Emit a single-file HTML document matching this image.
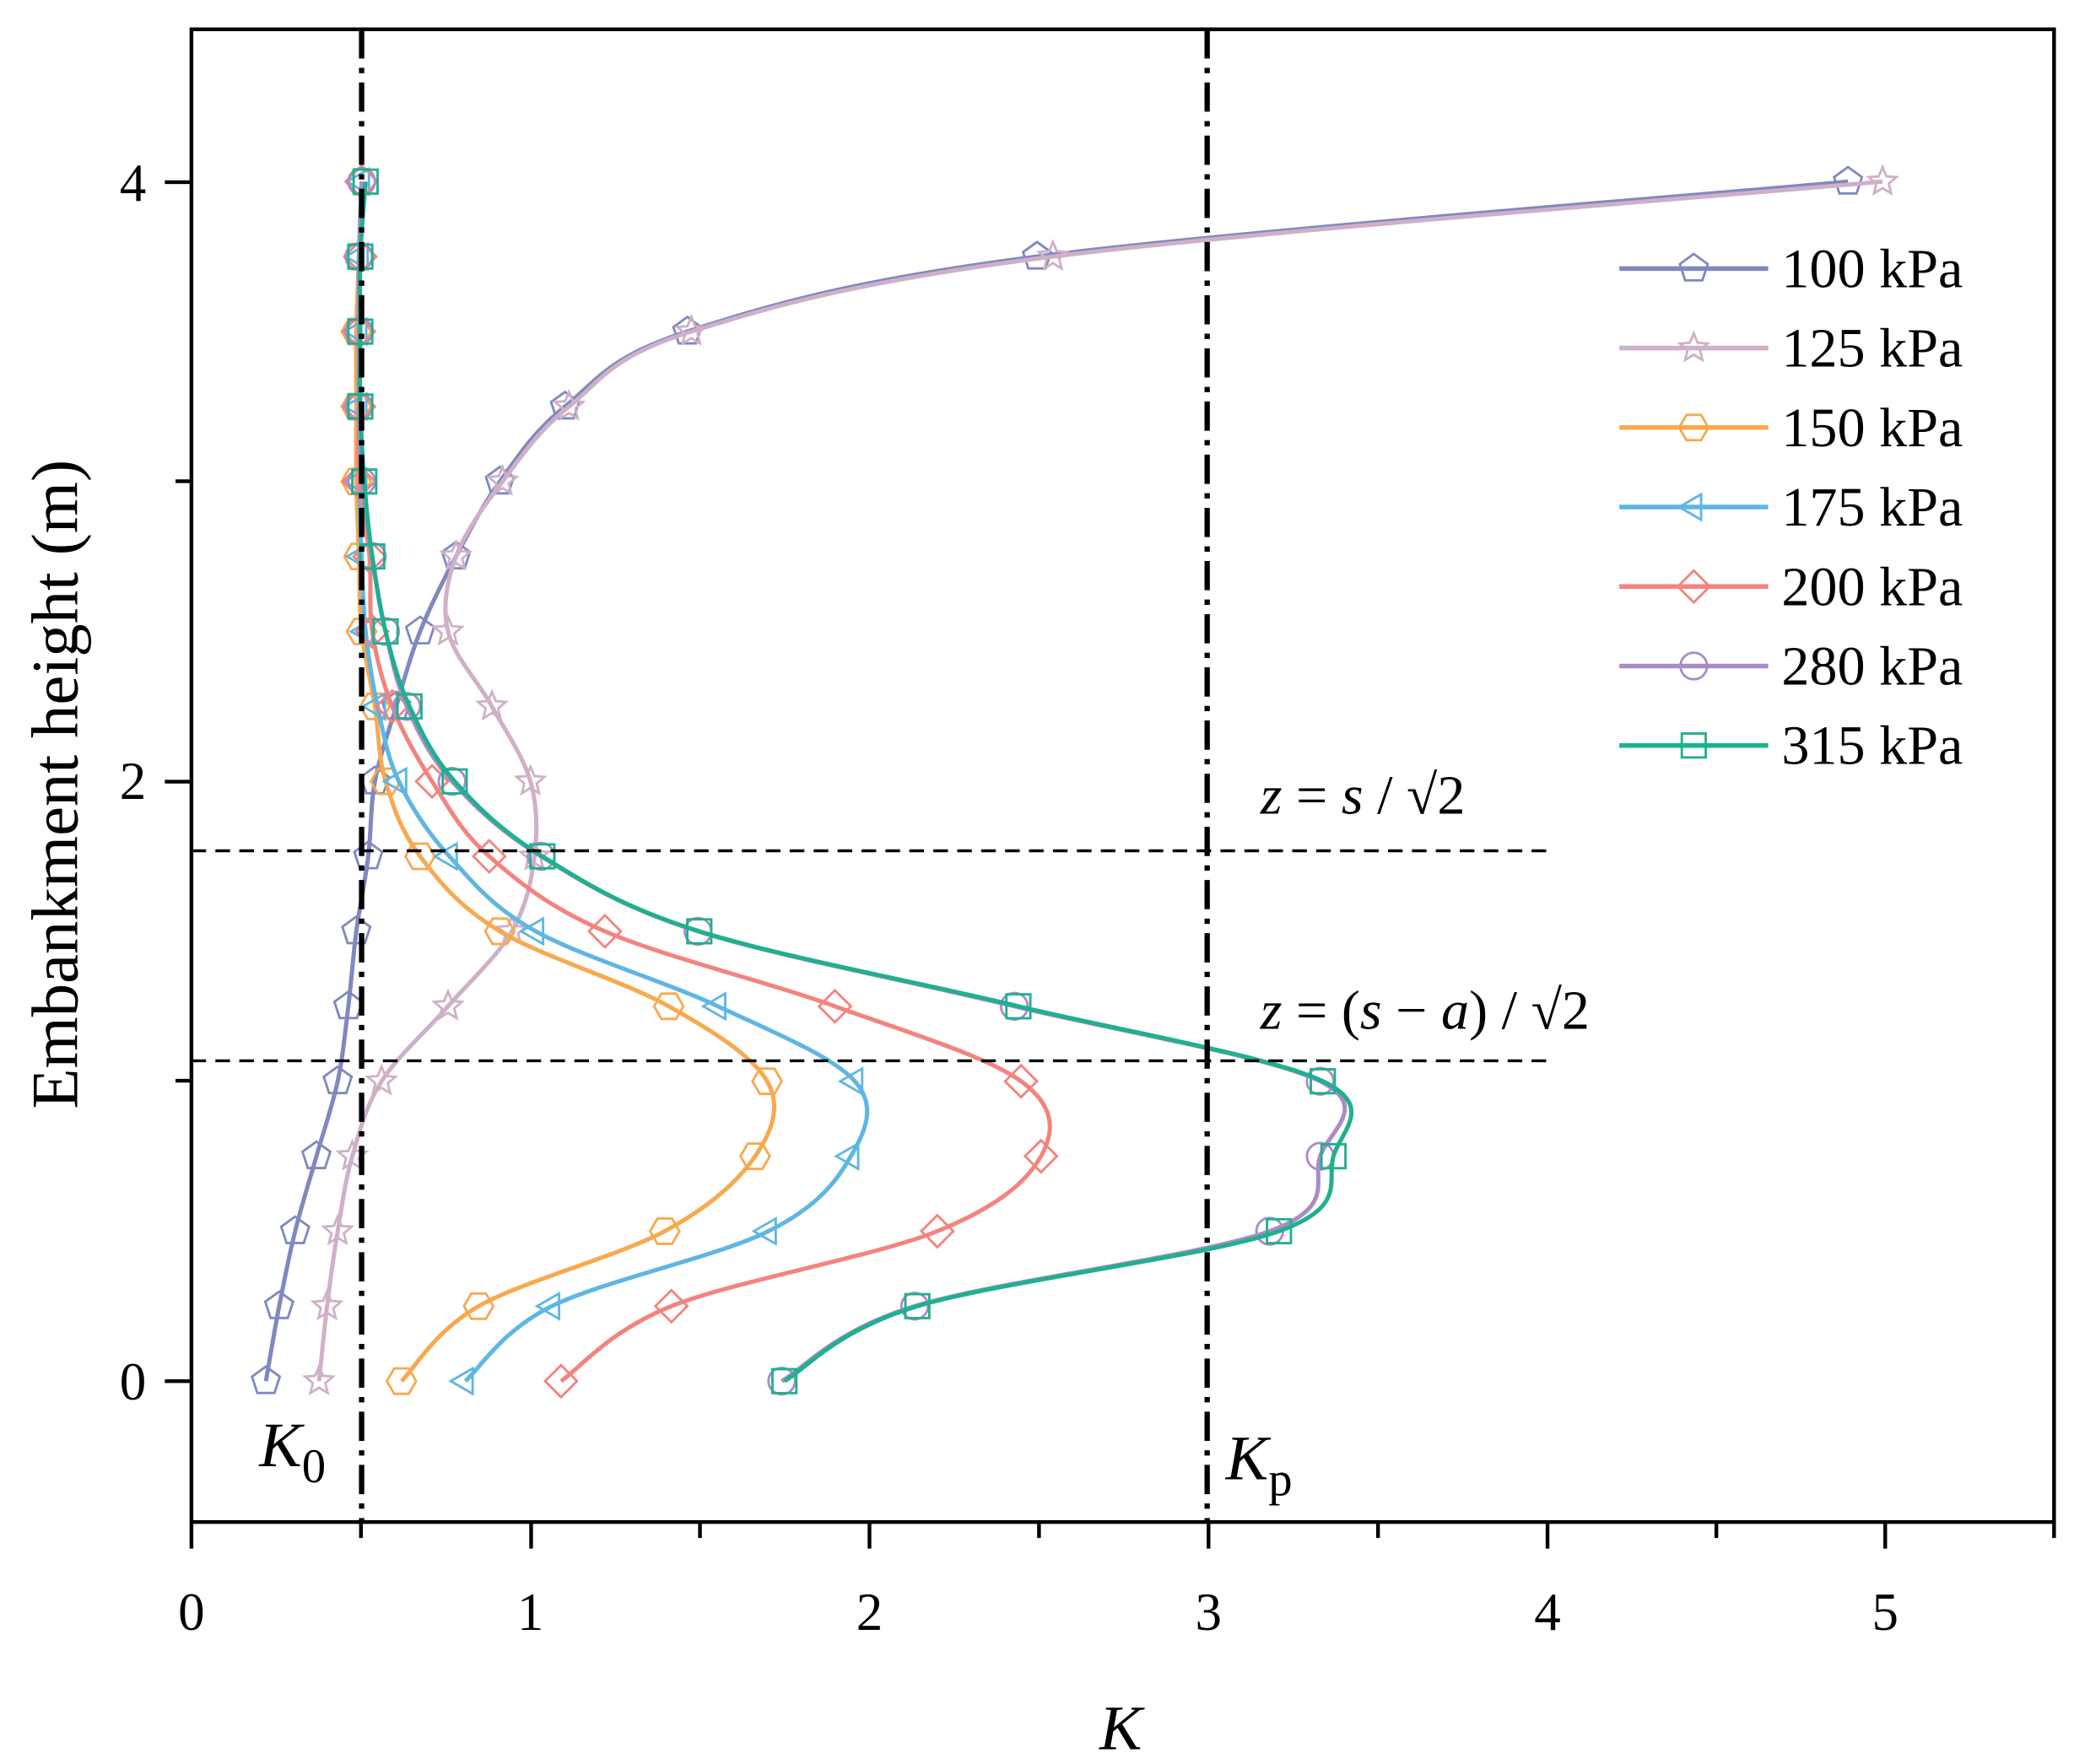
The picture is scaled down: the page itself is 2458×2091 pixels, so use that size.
<!DOCTYPE html>
<html><head><meta charset="utf-8"><style>
html,body{margin:0;padding:0;background:#fff;}
svg{display:block;}
text{font-family:"Liberation Serif",serif;fill:#000;}
</style></head><body>
<svg id="s" width="2458" height="2091" viewBox="0 0 1560 1327" xmlns="http://www.w3.org/2000/svg">
<rect x="0" y="0" width="1560" height="1327" fill="#fff"/>
<g id="plot"></g>
<rect x="144" y="22" width="1401" height="1123" fill="none" stroke="#000" stroke-width="2.8"/>
<line x1="272" y1="22" x2="272" y2="1145" stroke="#000" stroke-width="4" stroke-dasharray="22,7,4,7"/>
<line x1="908" y1="22" x2="908" y2="1145" stroke="#000" stroke-width="4" stroke-dasharray="22,7,4,7"/>
<line x1="144" y1="640" x2="1165" y2="640" stroke="#000" stroke-width="2.2" stroke-dasharray="11,7"/>
<line x1="144" y1="798" x2="1165" y2="798" stroke="#000" stroke-width="2.2" stroke-dasharray="11,7"/>
<g id="ticks" stroke="#000" stroke-width="2.8"></g>
<g font-size="40" text-anchor="middle">
<text x="144" y="1226">0</text><text x="399" y="1226">1</text><text x="654" y="1226">2</text>
<text x="909" y="1226">3</text><text x="1164" y="1226">4</text><text x="1418" y="1226">5</text>
</g>
<g font-size="40" text-anchor="end">
<text x="110" y="1053">0</text><text x="110" y="601">2</text><text x="110" y="151">4</text>
</g>
<text x="843" y="1316" font-size="48" font-style="italic" text-anchor="middle">K</text>
<text transform="translate(58,590) rotate(-90)" font-size="50" text-anchor="middle">Embankment height (m)</text>
<text x="195" y="1103" font-size="48" font-style="italic">K<tspan font-style="normal" font-size="36" dy="12">0</tspan></text>
<text x="922" y="1113" font-size="48" font-style="italic">K<tspan font-style="normal" font-size="36" dy="12">p</tspan></text>
<text x="948" y="612" font-size="42"><tspan font-style="italic">z</tspan> = <tspan font-style="italic">s</tspan> / √2</text>
<text x="948" y="774" font-size="42"><tspan font-style="italic">z</tspan> = (<tspan font-style="italic">s</tspan> − <tspan font-style="italic">a</tspan>) / √2</text>
<g id="legend"></g>
</svg>
<script>
var NS="http://www.w3.org/2000/svg";
function el(t,a,p){var e=document.createElementNS(NS,t);for(var k in a)e.setAttribute(k,a[k]);p.appendChild(e);return e;}
var tk=document.getElementById('ticks');
[144,399.5,654,909,1164,1418].forEach(function(x){el('line',{x1:x,y1:1145,x2:x,y2:1165},tk);});
[271.5,526.5,781.5,1036.5,1291,1545].forEach(function(x){el('line',{x1:x,y1:1145,x2:x,y2:1157},tk);});
[1039,588,137].forEach(function(y){el('line',{x1:124,y1:y,x2:144,y2:y},tk);});
[813,362].forEach(function(y){el('line',{x1:132,y1:y,x2:144,y2:y},tk);});
function Y(i){return 1039-i*56.4;}
var S=[
 {c:'#7f89bf',m:'pent',x:[200,210,222,238,254,262,268,277,282,298,316,343,376,425,517,780,1390]},
 {c:'#cfb0c8',m:'star',x:[240,246,254,265,287,337,385,402,399,370,337,343,378,428,520,792,1416]},
 {c:'#f8a94e',m:'hex',x:[302,360,500,568,577,503,376,316,290,282,272,270,268,268,268,270,272]},
 {c:'#5fb6e2',m:'tri',x:[350,415,578,640,643,540,403,338,300,284,275,272,270,270,270,271,272]},
 {c:'#f4837e',m:'dia',x:[422,505,705,783,768,628,455,368,325,295,280,278,270,270,270,271,272]},
 {c:'#a98cc6',m:'circ',x:[588,688,955,993,993,763,525,407,340,306,290,280,272,270,270,270,272]},
 {c:'#1fb08f',m:'sq',x:[590,690,962,1003,995,766,526,408,342,308,290,280,274,271,271,271,275]}
];
function path(pts){var d='M'+pts[0][0]+','+pts[0][1];
 for(var i=0;i<pts.length-1;i++){var p0=pts[i-1]||pts[i],p1=pts[i],p2=pts[i+1],p3=pts[i+2]||p2;
 d+=' C'+(p1[0]+(p2[0]-p0[0])/6)+','+(p1[1]+(p2[1]-p0[1])/6)+' '+(p2[0]-(p3[0]-p1[0])/6)+','+(p2[1]-(p3[1]-p1[1])/6)+' '+p2[0]+','+p2[1];}
 return d;}
function marker(g,m,x,y,c){var r=11,a={fill:'none',stroke:c,'stroke-width':1.8};
 function poly(n,rot,rr){var s='';for(var i=0;i<n;i++){var t=rot+i*2*Math.PI/n;s+=(x+rr*Math.cos(t))+','+(y+rr*Math.sin(t))+' ';}return s;}
 if(m=='pent'){a.points=poly(5,-Math.PI/2,r);el('polygon',a,g);}
 else if(m=='hex'){a.points=poly(6,0,r);el('polygon',a,g);}
 else if(m=='tri'){a.points=poly(3,Math.PI,r);el('polygon',a,g);}
 else if(m=='dia'){a.points=poly(4,0,r+1);el('polygon',a,g);}
 else if(m=='circ'){a.cx=x;a.cy=y;a.r=r-1;el('circle',a,g);}
 else if(m=='sq'){a.x=x-9;a.y=y-9;a.width=18;a.height=18;el('rect',a,g);}
 else if(m=='star'){var s='';for(var i=0;i<10;i++){var t=-Math.PI/2+i*Math.PI/5,rr=i%2?r*0.45:r;s+=(x+rr*Math.cos(t))+','+(y+rr*Math.sin(t))+' ';}a.points=s;el('polygon',a,g);}
}
var pg=document.getElementById('plot'),lg=document.getElementById('legend');
var names=['100 kPa','125 kPa','150 kPa','175 kPa','200 kPa','280 kPa','315 kPa'];
S.forEach(function(s,k){var pts=s.x.map(function(x,i){return [x,Y(i)];});
 el('path',{d:path(pts),fill:'none',stroke:s.c,'stroke-width':3.2},pg);
 pts.forEach(function(p){marker(pg,s.m,p[0],p[1],s.c);});
 var ly=202+k*59.8;
 el('line',{x1:1218,y1:ly,x2:1330,y2:ly,stroke:s.c,'stroke-width':3.5},lg);
 marker(lg,s.m,1274,ly,s.c);
 var t=el('text',{x:1340,y:ly+14,'font-size':42},lg);t.textContent=names[k];
});
</script>
</body></html>
